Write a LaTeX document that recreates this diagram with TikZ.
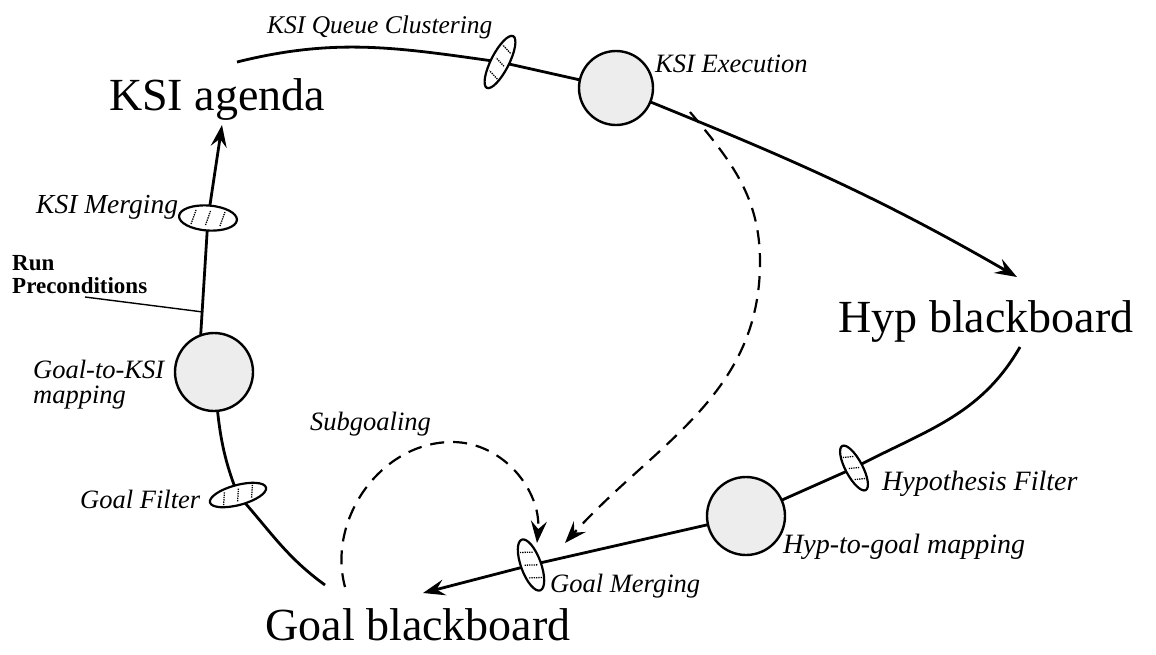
\documentclass[tikz,border=0pt]{standalone}
\usepackage{fontspec}
\setmainfont{Liberation Serif}
\usetikzlibrary{shapes.geometric,arrows.meta,calc}
\pgfdeclarelayer{bg}
\pgfsetlayers{bg,main}
\newcommand\hatchell[4]{%
  \begin{scope}[shift={(#1.center)},rotate=#2]
    \draw[hatchline] ({-0.5*#3-2},{-0.6*#4}) -- ({-0.5*#3+2},{0.6*#4});
    \draw[hatchline] (-2,{-0.6*#4}) -- (2,{0.6*#4});
    \draw[hatchline] ({0.5*#3-2},{-0.6*#4}) -- ({0.5*#3+2},{0.6*#4});
  \end{scope}}
\begin{document}
\begin{tikzpicture}[x=1pt,y=1pt,
  flow/.style={line width=2.8pt},
  tip/.style={-{Stealth[length=22pt,width=16pt,inset=8pt]}},
  dline/.style={line width=2.2pt,dash pattern=on 14pt off 9pt},
  proc/.style={circle,draw,line width=2.4pt,fill=black!7,inner sep=0pt,outer sep=0pt},
  filt/.style={ellipse,draw,line width=2.2pt,fill=white,inner sep=0pt,outer sep=0pt},
  big/.style={font=\fontsize{46}{50}\selectfont,inner sep=0pt},
  lbl/.style={font=\fontsize{26.5}{25}\selectfont\itshape,inner sep=0pt,anchor=base west,align=left},
  boldlbl/.style={font=\fontsize{23}{23}\selectfont\bfseries,inner sep=0pt,anchor=base west,align=left},
  hatchline/.style={line width=1.3pt,densely dotted}]

\useasboundingbox (0,0) rectangle (1156,-654);

% main labels
\node[big,anchor=base] (ksi) at (217,-110) {KSI agenda};
\node[big,anchor=base] (hyp) at (986,-332) {Hyp blackboard};
\node[big,anchor=base] (goal) at (418,-640) {Goal blackboard};

% processes
\node[proc,minimum size=74pt] (exec) at (616,-88) {};
\node[proc,minimum size=78pt] (g2k) at (214,-372) {};
\node[proc,minimum size=78pt] (h2g) at (746,-516) {};

% filters
\node[filt,minimum width=58pt,minimum height=18pt,rotate=63] (qclust) at (500,-62) {};
\node[filt,minimum width=58pt,minimum height=25pt,rotate=-4] (merge) at (208,-218) {};
\node[filt,minimum width=58pt,minimum height=20pt,rotate=15] (gfilter) at (238,-495) {};
\node[filt,minimum width=50pt,minimum height=17pt,rotate=118] (hfilter) at (854,-468) {};
\node[filt,minimum width=54pt,minimum height=20pt,rotate=110] (gmerge) at (531,-565) {};
\hatchell{qclust}{63}{29}{9}
\hatchell{merge}{-4}{29}{12}
\hatchell{gfilter}{15}{29}{10}
\hatchell{hfilter}{118}{25}{8}
\hatchell{gmerge}{110}{27}{10}

% labels
\node[lbl,font=\fontsize{25.5}{25}\selectfont\itshape] (lqc) at (267,-33) {KSI Queue Clustering};
\node[lbl] (lex) at (655,-72) {KSI Execution};
\node[lbl,font=\fontsize{27.5}{25}\selectfont\itshape] (lme) at (36,-213) {KSI Merging};
\node[boldlbl] (lrp) at (12,-293) {Run\\Preconditions};
\node[lbl] (lgk) at (33,-403) {Goal-to-KSI\\mapping};
\node[lbl] (lsg) at (310,-430) {Subgoaling};
\node[lbl] (lgf) at (80,-508) {Goal Filter};
\node[lbl] (lgm) at (550,-592) {Goal Merging};
\node[lbl,font=\fontsize{28}{25}\selectfont\itshape] (lhg) at (783,-553) {Hyp-to-goal mapping};
\node[lbl,font=\fontsize{28}{25}\selectfont\itshape] (lhf) at (882,-490) {Hypothesis Filter};

% free ends
\coordinate (s1) at (237,-62);
\coordinate (hin) at (1017,-277);
\coordinate (h1) at (1020,-347);
\coordinate (gin) at (423,-593);
\coordinate (g2) at (325,-585);
\coordinate (kin) at (222,-125);
\coordinate (rpc) at (85,-297);
\coordinate (sg1) at (345,-587);
\coordinate (sgtop) at (452,-442);
\coordinate (sgend) at (537,-543);
\coordinate (d1) at (690,-112);
\coordinate (dmid) at (760,-262);
\coordinate (dend) at (565,-543);

\begin{pgfonlayer}{bg}
  \fill[white] (0,0) rectangle (1156,-654);
  \draw[flow] (s1) to[out=14,in=172] (qclust.center) -- (exec.center);
  \draw[flow,tip] (exec.center) to[out=-22,in=150] (hin);
  \draw[flow] (h1) to[out=-120,in=28] (hfilter.center) -- (h2g.center) -- (gmerge.center);
  \draw[flow,tip] (gmerge.center) -- (gin);
  \draw[flow] (g2) to[out=144,in=-48] (gfilter.center) to[out=112,in=-85] (g2k.center);
  \draw[flow] (g2k.110) -- (merge.center);
  \draw[flow,tip] (merge.center) -- (kin);
  \draw[line width=1.4pt] (rpc) -- ($(g2k.110)!0.2!(merge.center)$);
\end{pgfonlayer}

% dashed flows
\draw[dline,tip] (sg1) to[out=105,in=180] (sgtop) to[out=0,in=85] (sgend);
\draw[dline,tip] (d1) to[out=-50,in=90] (dmid) to[out=-90,in=48] (dend);
\end{tikzpicture}
\end{document}
